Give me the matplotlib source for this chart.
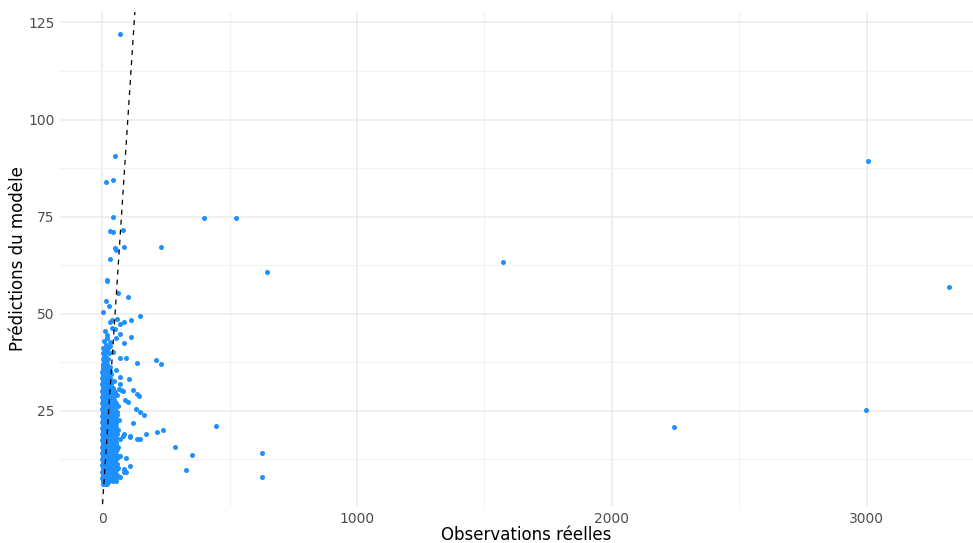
import matplotlib
matplotlib.use("Agg")
import matplotlib.pyplot as plt
from matplotlib.ticker import MultipleLocator

plt.rcParams['font.family'] = ['DejaVu Sans']

# Dense cloud of small observations: one predicted level per row,
# with the observed values recorded at that level.
core_pred = [6.3, 7.0, 7.4, 7.8, 8.2, 8.6, 9.0, 9.4, 9.8, 10.2,
             10.6, 11.0, 11.4, 11.8, 12.2, 12.6, 13.0, 13.4, 13.8, 14.2,
             14.6, 15.0, 15.4, 15.8, 16.2, 16.6, 17.0, 17.4, 17.8, 18.2,
             18.6, 19.0, 19.4, 19.8, 20.2, 20.6, 21.0, 21.4, 21.8, 22.2,
             22.6, 23.0, 23.4, 23.8, 24.2, 24.6, 25.0, 25.4, 25.8, 26.2,
             26.6, 27.0, 27.4, 27.8, 28.2, 28.6, 29.0, 29.4, 29.8, 30.2,
             30.6, 31.0, 31.4, 31.8, 32.2, 32.6, 33.0, 33.4, 33.8, 34.2,
             34.6, 35.0, 35.6, 36.0, 36.8, 37.5, 38.3, 39.0, 39.8, 40.5,
             41.3, 42.0, 43.0, 44.5, 45.5]
core_obs = [
    [2, 9, 18], [1, 5, 14, 26, 40], [3, 11, 21, 33], [0, 7, 16, 29, 48],
    [2, 12, 24, 38], [1, 6, 19, 31, 57], [4, 10, 22, 44], [0, 8, 15, 27, 36],
    [2, 13, 25, 52], [1, 6, 18, 33, 63],
    [3, 11, 23, 41], [0, 8, 16, 29, 47], [2, 5, 20, 35, 58], [1, 9, 14, 26, 39],
    [3, 12, 22, 44], [0, 7, 17, 31, 51], [2, 10, 24, 37], [1, 5, 15, 28, 46, 66],
    [3, 12, 20, 34], [0, 8, 18, 27, 42],
    [2, 6, 14, 23, 55], [1, 10, 19, 32, 48], [4, 13, 25, 38], [0, 7, 16, 29, 61],
    [2, 11, 21, 35], [1, 5, 17, 26, 44], [3, 9, 14, 30, 52], [0, 12, 22, 39],
    [2, 7, 18, 27, 47, 70], [1, 10, 15, 33],
    [4, 8, 20, 28, 42], [0, 13, 24, 36, 57], [2, 6, 16, 31], [1, 11, 21, 26, 45],
    [3, 9, 18, 34, 62], [0, 7, 14, 28, 40], [2, 12, 22, 49], [1, 5, 17, 30, 37],
    [4, 10, 19, 25, 55], [0, 8, 15, 33],
    [2, 13, 23, 41, 66], [1, 6, 18, 29], [3, 11, 21, 36, 51], [0, 9, 16, 27],
    [2, 5, 14, 24, 44], [1, 12, 20, 32, 59], [3, 8, 17, 38], [0, 10, 22, 28, 48],
    [2, 6, 15, 34], [1, 13, 19, 26, 63],
    [4, 9, 24, 41], [0, 7, 16, 31, 54], [2, 11, 21, 37], [1, 5, 14, 27, 46],
    [3, 10, 18, 33], [0, 8, 23, 40], [2, 12, 17, 29, 58], [1, 6, 20, 35],
    [3, 10, 15, 26, 49], [0, 8, 19, 38],
    [2, 13, 24, 31], [1, 5, 16, 42], [4, 11, 21, 28], [0, 9, 18, 35],
    [2, 14, 25], [1, 7, 19, 44], [3, 11, 22], [0, 9, 16, 30],
    [2, 13, 26], [1, 6, 20],
    [4, 17, 35], [0, 10, 23], [3, 15], [1, 8, 27], [2, 19],
    [5, 13], [1, 22], [7, 16], [3, 25], [10],
    [4, 21], [14], [8], [20], [12],
]

# Second pass through the cloud, between the levels above
fill_pred = [6.6, 7.2, 7.6, 8.0, 8.4, 8.8, 9.2, 9.6, 10.0, 10.4,
             10.8, 11.2, 11.6, 12.0, 12.4, 12.8, 13.2, 13.6, 14.0, 14.4,
             14.8, 15.2, 15.6, 16.0, 16.4, 16.8, 17.2, 17.6, 18.0, 18.4,
             18.8, 19.2, 19.6, 20.0, 20.4, 20.8, 21.2, 21.6, 22.0, 22.4,
             22.8, 23.2, 23.6, 24.0, 24.4, 24.8, 25.2, 25.6, 26.0, 26.4,
             26.8, 27.2, 27.6, 28.0, 28.4, 28.8, 29.2, 29.6, 30.0, 30.4,
             30.8, 31.2, 31.6, 32.0, 32.4, 32.8, 33.2, 34.0, 35.3, 37.1]
fill_obs = [
    [5, 13, 24], [3, 20, 35, 44], [8, 17, 28, 52], [4, 11, 23, 39],
    [6, 19, 30, 45], [3, 14, 26, 41], [7, 17, 33, 50], [5, 12, 21, 43],
    [9, 19, 30, 38], [4, 14, 27, 46],
    [6, 18, 34, 53], [5, 12, 24, 40], [8, 16, 29, 43], [4, 19, 33, 49],
    [6, 15, 27, 37], [9, 21, 39, 56], [4, 14, 30, 43], [7, 22, 35, 52],
    [5, 16, 25, 45], [10, 22, 36, 48],
    [4, 18, 28, 40], [7, 15, 26, 43, 58], [5, 20, 31, 47], [9, 13, 23, 36],
    [6, 16, 28, 41, 54], [8, 21, 33, 49], [5, 19, 25, 38], [7, 16, 31, 45],
    [4, 12, 23, 36, 53], [6, 20, 29, 40],
    [9, 17, 33, 48], [5, 19, 28, 43], [8, 23, 36, 51], [4, 14, 30, 41],
    [6, 23, 29, 46], [10, 19, 33, 52], [5, 16, 27, 44], [7, 22, 35, 47],
    [4, 13, 29, 40], [9, 20, 26, 38, 50],
    [6, 17, 31, 45], [8, 24, 35, 49], [5, 15, 28, 42], [7, 21, 33, 56],
    [9, 18, 29, 39], [5, 16, 26, 43], [6, 23, 31, 51], [8, 19, 36, 44],
    [4, 12, 27, 39], [7, 21, 33, 45],
    [6, 14, 28, 37], [9, 22, 39, 47], [5, 17, 25, 34], [7, 21, 31, 43],
    [4, 15, 26, 38], [6, 19, 33, 45], [8, 14, 24, 36], [5, 17, 28, 41],
    [7, 21, 30, 44], [4, 13, 27, 36],
    [6, 20, 28], [8, 13, 24, 33], [5, 17, 31], [7, 22, 27],
    [4, 11, 20, 30], [6, 16, 29], [8, 18, 26], [5, 12, 23],
    [6, 19, 29], [4, 11, 18],
]

# Scattered points around the cloud
mid_obs = [70.6, 48, 13, 42, 42, 31, 40, 80, 231, 48, 55, 87, 29, 17, 19,
           60, 101, 16, 25, 4, 149, 29, 38, 57, 68, 87, 112, 38, 51, 71, 114,
           18, 29, 55, 87, 18, 31, 16, 42, 68, 94, 212, 231, 138, 5, 12, 31,
           54, 71, 106, 68, 120, 138, 144, 81, 101, 90, 64, 75, 133, 149, 165,
           120, 446, 238, 214, 173, 107, 138, 146, 110, 86, 81, 286, 353, 327,
           93, 71, 110, 87, 94, 71, 87, 55]
mid_pred = [121.9, 90.5, 83.9, 84.5, 75.0, 71.4, 71.1, 71.5, 67.3, 66.9, 66.3,
            67.1, 64.1, 58.8, 58.4, 55.3, 54.4, 53.2, 52.1, 50.4, 49.4, 48.0,
            48.5, 48.7, 47.4, 47.8, 48.3, 46.3, 46.1, 44.8, 44.1, 43.7, 42.7,
            43.8, 42.4, 41.0, 41.8, 40.1, 40.1, 38.6, 38.7, 38.1, 37.0, 37.3,
            36.9, 36.5, 36.3, 35.6, 33.7, 33.2, 32.0, 30.4, 29.4, 28.9, 30.2,
            27.3, 27.7, 30.7, 30.4, 25.5, 24.7, 24.0, 22.0, 21.2, 20.2, 19.5,
            19.0, 18.6, 17.7, 17.7, 18.4, 19.1, 18.6, 15.6, 13.7, 9.7, 13.0,
            13.5, 10.8, 10.1, 9.2, 7.9, 9.4, 6.9]

# Large observations
far_obs = [400, 525, 647, 627, 627, 1573, 2243, 3004, 2996, 3322]
far_pred = [74.7, 74.7, 60.8, 14.2, 8.0, 63.4, 20.9, 89.4, 25.3, 57.0]

obs = ([x for row in core_obs for x in row]
       + [x for row in fill_obs for x in row] + mid_obs + far_obs)
pred = ([y for y, row in zip(core_pred, core_obs) for _ in row]
        + [y for y, row in zip(fill_pred, fill_obs) for _ in row]
        + mid_pred + far_pred)

W, H = 973, 543
fig = plt.figure(figsize=(W / 100, H / 100), dpi=100)
ax = fig.add_axes([60 / W, 37 / H, (991 - 60) / W, (506 - 12) / H])

# Limits padded by 5% of the data range on each side
xr = max(obs) - min(obs)
yr = max(pred) - min(pred)
xlim = (min(obs) - 0.05 * xr, max(obs) + 0.05 * xr)
ylim = (min(pred) - 0.05 * yr, max(pred) + 0.05 * yr)

ax.scatter(obs, pred, s=13, color='#1E90FF', linewidths=0, zorder=3)

# Identity line y = x across the whole panel
lo = min(xlim[0], ylim[0])
hi = max(xlim[1], ylim[1])
ax.plot([lo, hi], [lo, hi], color='black', lw=0.9, linestyle=(0, (4, 4)), zorder=4)

ax.set_xlim(xlim)
ax.set_ylim(ylim)

ax.xaxis.set_major_locator(MultipleLocator(1000))
ax.xaxis.set_minor_locator(MultipleLocator(500))
ax.yaxis.set_major_locator(MultipleLocator(25))
ax.yaxis.set_minor_locator(MultipleLocator(12.5))
ax.set_yticks([25, 50, 75, 100, 125])

ax.grid(which='major', color='#EBEBEB', lw=1.1, zorder=0)
ax.grid(which='minor', color='#F2F2F2', lw=0.8, zorder=0)
ax.set_axisbelow(True)
for s in ax.spines.values():
    s.set_visible(False)

ax.tick_params(which='both', length=0)
ax.tick_params(axis='both', which='major', labelsize=10, labelcolor='#4D4D4D', pad=4)

ax.set_xlabel('Observations réelles', fontsize=12, color='black')
ax.set_ylabel('Prédictions du modèle', fontsize=12, color='black')
axw, axh = 991 - 60, 506 - 12
ax.xaxis.set_label_coords((526 - 60) / axw, (506 - 535) / axh)
ax.xaxis.label.set_va('center')
ax.yaxis.set_label_coords((18 - 60) / axw, (506 - 259) / axh)
ax.yaxis.label.set_va('center')

fig.savefig('out.png', dpi=100, facecolor='white')
